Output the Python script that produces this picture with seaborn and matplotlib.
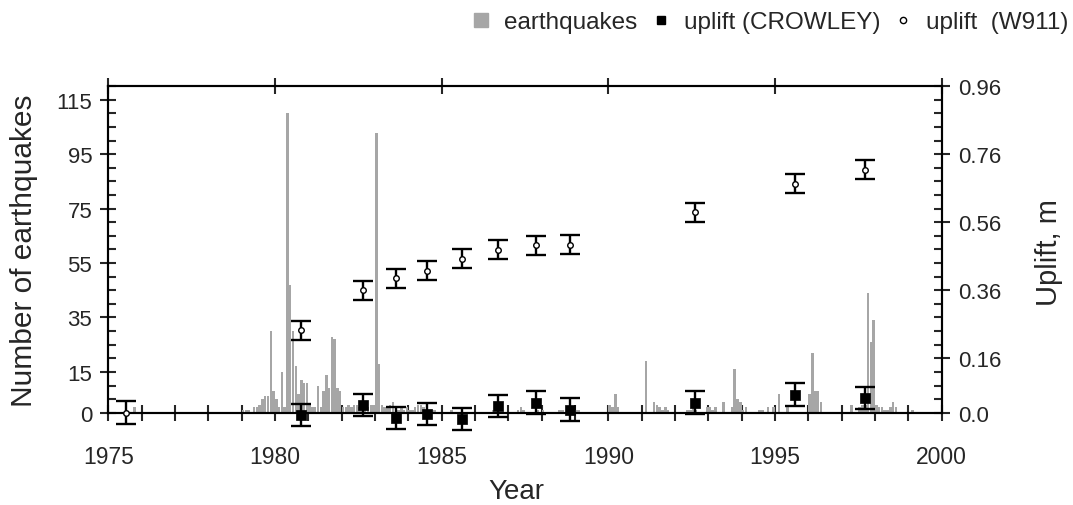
import numpy as np
import pandas as pd
import matplotlib
matplotlib.use("Agg")
import matplotlib.pyplot as plt
from matplotlib.lines import Line2D
from matplotlib.ticker import MultipleLocator, FixedLocator
import seaborn as sns

# ---------------- data ----------------
# monthly earthquake counts, one list per year (Jan..Dec)
eq_1975 = [0, 0, 0, 0, 0, 0, 0, 0, 0, 2, 0, 0]
eq_1976 = [0] * 12
eq_1977 = [0] * 12
eq_1978 = [0] * 12
eq_1979 = [1, 1, 1, 0, 2, 2, 3, 5, 6, 6, 30, 8]
eq_1980 = [5, 2, 15, 2, 110, 47, 30, 17, 7, 12, 11, 11]
eq_1981 = [3, 2, 2, 10, 2, 8, 14, 9, 28, 27, 9, 8]
eq_1982 = [2, 2, 3, 2, 3, 3, 2, 3, 3, 2, 3, 3]
eq_1983 = [103, 18, 3, 2, 2, 3, 4, 2, 1, 2, 1, 2]
eq_1984 = [1, 1, 2, 3, 3, 2, 1, 1, 1, 1, 0, 0]
eq_1985 = [0, 0, 0, 1, 0, 0, 0, 0, 0, 0, 0, 0]
eq_1986 = [0, 0, 0, 0, 0, 0, 1, 0, 0, 0, 0, 0]
eq_1987 = [0, 0, 0, 1, 2, 1, 0, 0, 0, 0, 1, 0]
eq_1988 = [1, 0, 0, 0, 0, 0, 1, 1, 0, 0, 0, 0]
eq_1989 = [1, 1, 0, 0, 0, 0, 0, 0, 0, 0, 0, 0]
eq_1990 = [3, 2, 7, 2, 0, 0, 0, 0, 0, 0, 0, 0]
eq_1991 = [0, 19, 0, 0, 4, 3, 2, 1, 2, 1, 0, 0]
eq_1992 = [0, 0, 0, 0, 1, 1, 2, 1, 0, 0, 0, 2]
eq_1993 = [2, 1, 2, 0, 0, 4, 0, 0, 2, 16, 5, 4]
eq_1994 = [1, 2, 0, 0, 0, 0, 1, 1, 0, 2, 0, 2]
eq_1995 = [0, 7, 0, 0, 2, 0, 0, 0, 0, 0, 0, 0]
eq_1996 = [7, 22, 8, 8, 4, 0, 0, 0, 0, 0, 0, 0]
eq_1997 = [0, 0, 0, 3, 0, 0, 2, 3, 3, 44, 26, 34]
eq_1998 = [3, 2, 2, 1, 1, 2, 4, 2, 0, 0, 0, 0]
eq_1999 = [0, 1, 0, 0, 0, 0, 0, 0, 0, 0, 0, 0]
eq_years = list(range(1975, 2000))
eq_table = [eq_1975, eq_1976, eq_1977, eq_1978, eq_1979, eq_1980, eq_1981,
            eq_1982, eq_1983, eq_1984, eq_1985, eq_1986, eq_1987, eq_1988,
            eq_1989, eq_1990, eq_1991, eq_1992, eq_1993, eq_1994, eq_1995,
            eq_1996, eq_1997, eq_1998, eq_1999]

# uplift, W911 (open circles)
w911_year = [1975.53, 1980.79, 1982.63, 1983.63, 1984.56, 1985.61, 1986.68,
             1987.83, 1988.84, 1992.59, 1995.59, 1997.70]
w911_uplift = [0.0, 0.243, 0.36, 0.396, 0.417, 0.453, 0.479, 0.492, 0.494,
               0.589, 0.674, 0.714]
w911_err = [0.033, 0.028, 0.028, 0.028, 0.028, 0.028, 0.028, 0.028, 0.028,
            0.028, 0.028, 0.028]

# uplift, CROWLEY (filled squares)
crow_year = [1980.79, 1982.63, 1983.63, 1984.56, 1985.61, 1986.68, 1987.83,
             1988.84, 1992.59, 1995.59, 1997.70]
crow_uplift = [-0.006, 0.023, -0.015, -0.003, -0.018, 0.02, 0.03, 0.009,
               0.03, 0.053, 0.043]
crow_err = [0.033] * 11

x_major = [1975, 1980, 1985, 1990, 1995, 2000]
y_left_ticks = [0, 15, 35, 55, 75, 95, 115]
y_right_ticks = [0.0, 0.16, 0.36, 0.56, 0.76, 0.96]
y_right_labels = ["0.0", "0.16", "0.36", "0.56", "0.76", "0.96"]

# ---------------- build frames ----------------
rows = []
for yr, counts in zip(eq_years, eq_table):
    for m, c in enumerate(counts):
        rows.append({"t": yr + (m + 0.5) / 12.0, "n": float(c)})
eq_df = pd.DataFrame(rows)

w_df = pd.DataFrame({"year": w911_year, "uplift": w911_uplift})
c_df = pd.DataFrame({"year": crow_year, "uplift": crow_uplift})

# ---------------- style ----------------
sns.set_style("ticks")
plt.rcParams["font.family"] = ["Liberation Sans", "DejaVu Sans"]

fig = plt.figure(figsize=(10.73, 5.06), dpi=100)
ax = fig.add_axes([0.1009, 0.1824, 0.7767, 0.6451])
ax2 = ax.twinx()

grey = "#a6a6a6"
sns.histplot(data=eq_df, x="t", weights="n", binwidth=1 / 12.0,
             binrange=(1975, 2000), ax=ax, color=grey, alpha=1.0,
             linewidth=0, shrink=0.9, element="bars")

ax.set_xlim(1975, 2000)
ax.set_ylim(0, 120)
ax2.set_ylim(0, 0.96)

# error bars + markers on the right axis
for yrs, vals, errs in [(crow_year, crow_uplift, crow_err),
                        (w911_year, w911_uplift, w911_err)]:
    eb = ax2.errorbar(yrs, vals, yerr=errs, fmt="none", ecolor="black",
                      elinewidth=1.7, capsize=7.5, capthick=1.7, zorder=3)
    for a in eb.get_children():
        a.set_clip_on(False)

sns.scatterplot(data=c_df, x="year", y="uplift", ax=ax2, marker="s", s=42,
                color="black", edgecolor="black", linewidth=0.5,
                clip_on=False, zorder=4, legend=False)
sns.scatterplot(data=w_df, x="year", y="uplift", ax=ax2, marker="o", s=16,
                facecolor="white", edgecolor="black", linewidth=1.0,
                clip_on=False, zorder=4, legend=False)

# ---------------- axes cosmetics ----------------
lw = 1.5
for a in (ax, ax2):
    for sp in a.spines.values():
        sp.set_visible(True)
        sp.set_linewidth(lw)
        sp.set_color("black")

ax.xaxis.set_major_locator(FixedLocator(x_major))
ax.xaxis.set_minor_locator(MultipleLocator(1))
ax.set_xticklabels([str(v) for v in x_major])
ax.tick_params(axis="x", which="both", direction="inout", length=11,
               width=lw, bottom=True, top=True, labelsize=16.5, pad=18)
ax.tick_params(axis="x", which="minor", top=False)

ax.yaxis.set_major_locator(FixedLocator(y_left_ticks))
ax.yaxis.set_minor_locator(MultipleLocator(5))
ax.set_yticklabels([str(v) for v in y_left_ticks])
ax.tick_params(axis="y", which="major", direction="inout", length=11,
               width=lw, labelsize=16, pad=6, right=False)
ax.tick_params(axis="y", which="minor", direction="in", length=6, width=lw,
               right=False)

ax2.yaxis.set_major_locator(FixedLocator(y_right_ticks))
ax2.yaxis.set_minor_locator(MultipleLocator(0.04))
ax2.set_yticklabels(y_right_labels)
ax2.tick_params(axis="y", which="major", direction="inout", length=11,
                width=lw, labelsize=16, pad=6)
ax2.tick_params(axis="y", which="minor", direction="in", length=6, width=lw)

ax.set_xlabel("Year", fontsize=20)
ax.xaxis.label.set_verticalalignment("baseline")
ax.xaxis.set_label_coords(0.49, (413.7 - 499) / 326.4)
ax.set_ylabel("Number of earthquakes", fontsize=21.5)
ax.yaxis.set_label_coords(-0.084, 0.5)
ax2.set_ylabel("Uplift, m", fontsize=21)
ax2.yaxis.set_label_coords(1.1125, 0.495)

# ---------------- legend ----------------
handles = [
    Line2D([], [], marker="s", linestyle="", color=grey, markersize=10),
    Line2D([], [], marker="s", linestyle="", color="black", markersize=6),
    Line2D([], [], marker="o", linestyle="", markerfacecolor="white",
           markeredgecolor="black", markeredgewidth=1.0, markersize=4.5),
]
labels = ["earthquakes", "uplift (CROWLEY)", "uplift  (W911)"]
fig.legend(handles, labels, loc="center right",
           bbox_to_anchor=(0.996, 1 - 23 / 506), ncol=3, frameon=False,
           fontsize=17.5, handlelength=1.0, handletextpad=0.45,
           columnspacing=0.45, borderpad=0.0, borderaxespad=0.0)

fig.savefig("out.png", dpi=100)
